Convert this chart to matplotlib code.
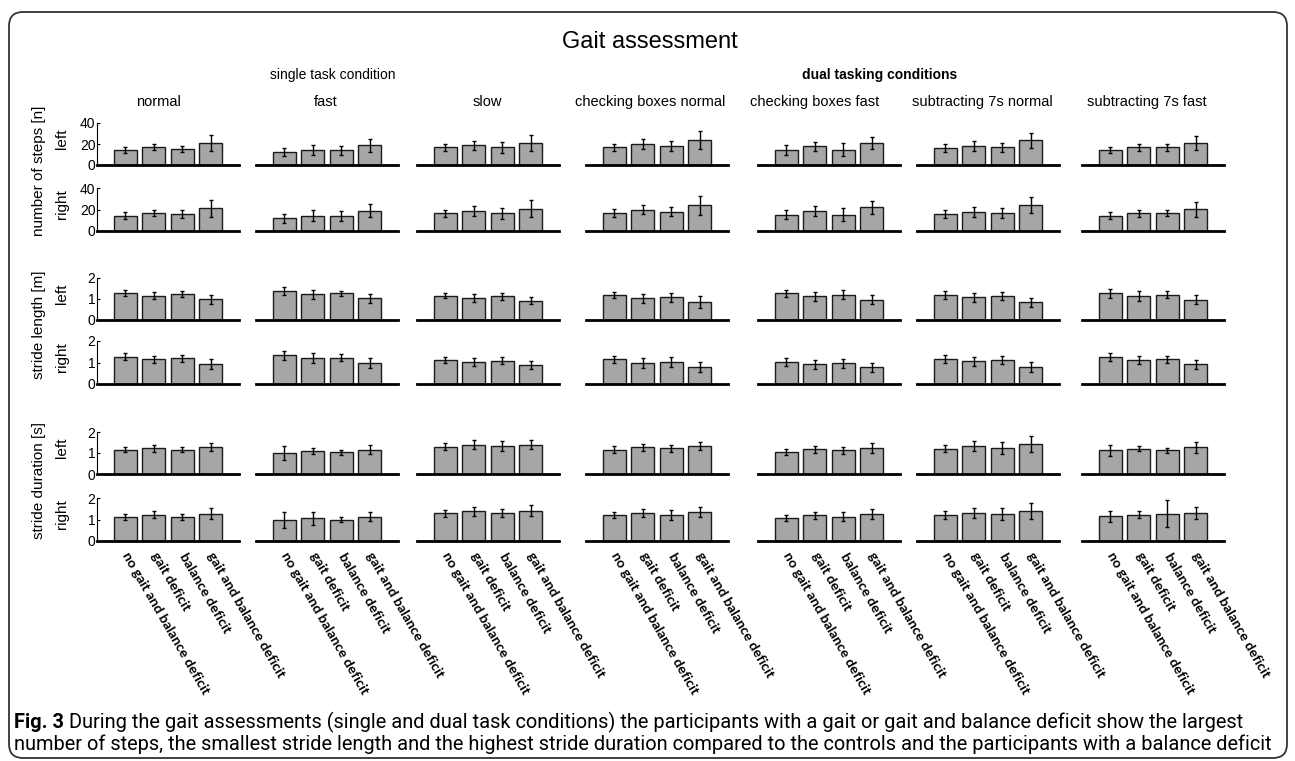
import matplotlib
matplotlib.use("Agg")
import matplotlib.pyplot as plt
from matplotlib.patches import FancyBboxPatch

W, H = 1295, 761

conditions = ["normal", "fast", "slow", "checking boxes normal", "checking boxes fast",
              "subtracting 7s normal", "subtracting 7s fast"]
groups = ["no gait and balance deficit", "gait deficit", "balance deficit",
          "gait and balance deficit"]

# mean values, one list per condition (4 groups each)
steps_left = [[14.3, 17.1, 15.2, 21.0], [12.1, 14.3, 14.0, 18.7], [16.8, 18.7, 16.8, 21.0],
              [16.8, 19.7, 18.1, 23.5], [14.3, 17.8, 14.3, 20.6], [15.9, 17.8, 16.8, 23.5],
              [14.3, 16.8, 16.8, 21.0]]
steps_left_err = [[3.0, 2.9, 3.0, 7.6], [3.8, 5.0, 4.4, 6.0], [3.5, 4.5, 5.0, 8.0],
                  [3.3, 4.6, 4.9, 8.6], [4.3, 4.4, 6.2, 5.7], [3.7, 4.8, 4.1, 7.1],
                  [3.2, 3.5, 3.3, 7.0]]
steps_right = [[14.3, 16.8, 15.6, 21.0], [11.7, 14.3, 14.0, 18.7], [16.5, 18.7, 16.5, 20.6],
               [16.8, 20.0, 18.1, 23.8], [15.2, 18.7, 15.2, 22.2], [15.9, 17.8, 16.8, 24.1],
               [14.3, 16.5, 16.5, 20.3]]
steps_right_err = [[3.0, 3.0, 3.5, 7.6], [4.0, 5.0, 4.6, 6.0], [3.5, 4.5, 5.0, 8.0],
                   [3.5, 4.6, 4.4, 9.0], [4.5, 4.5, 6.0, 6.0], [3.5, 4.5, 4.5, 7.5],
                   [3.0, 3.5, 3.0, 7.0]]
stride_len_left = [[1.30, 1.16, 1.24, 0.98], [1.37, 1.22, 1.27, 1.03], [1.16, 1.05, 1.13, 0.92],
                   [1.17, 1.03, 1.08, 0.86], [1.27, 1.13, 1.21, 0.97], [1.19, 1.08, 1.14, 0.84],
                   [1.27, 1.14, 1.21, 0.97]]
stride_len_left_err = [[0.14, 0.17, 0.16, 0.22], [0.20, 0.20, 0.13, 0.20], [0.13, 0.18, 0.16, 0.18],
                       [0.14, 0.20, 0.22, 0.27], [0.17, 0.22, 0.22, 0.22], [0.18, 0.20, 0.17, 0.20],
                       [0.20, 0.23, 0.17, 0.21]]
stride_len_right = [[1.27, 1.14, 1.19, 0.91], [1.33, 1.22, 1.22, 0.98], [1.11, 1.03, 1.09, 0.89],
                    [1.14, 0.97, 1.03, 0.81], [1.02, 0.92, 0.96, 0.77], [1.17, 1.06, 1.11, 0.81],
                    [1.25, 1.11, 1.14, 0.91]]
stride_len_right_err = [[0.15, 0.18, 0.16, 0.23], [0.20, 0.24, 0.17, 0.22], [0.14, 0.18, 0.15, 0.18],
                        [0.18, 0.23, 0.23, 0.23], [0.17, 0.20, 0.20, 0.19], [0.18, 0.20, 0.19, 0.23],
                        [0.18, 0.20, 0.17, 0.21]]
stride_dur_left = [[1.16, 1.22, 1.16, 1.30], [1.00, 1.10, 1.03, 1.16], [1.30, 1.40, 1.35, 1.40],
                   [1.16, 1.27, 1.22, 1.33], [1.06, 1.17, 1.13, 1.24], [1.21, 1.33, 1.25, 1.43],
                   [1.13, 1.21, 1.13, 1.27]]
stride_dur_left_err = [[0.12, 0.17, 0.13, 0.20], [0.35, 0.14, 0.13, 0.20], [0.16, 0.21, 0.24, 0.20],
                       [0.16, 0.17, 0.17, 0.19], [0.14, 0.16, 0.17, 0.22], [0.17, 0.23, 0.28, 0.37],
                       [0.25, 0.13, 0.11, 0.25]]
stride_dur_right = [[1.13, 1.22, 1.13, 1.27], [0.98, 1.06, 1.00, 1.13], [1.29, 1.38, 1.29, 1.41],
                    [1.19, 1.29, 1.22, 1.35], [1.08, 1.19, 1.13, 1.24], [1.22, 1.30, 1.27, 1.41],
                    [1.14, 1.22, 1.27, 1.30]]
stride_dur_right_err = [[0.13, 0.17, 0.13, 0.25], [0.39, 0.31, 0.13, 0.20], [0.17, 0.22, 0.18, 0.25],
                        [0.14, 0.18, 0.23, 0.24], [0.14, 0.17, 0.22, 0.23], [0.18, 0.24, 0.27, 0.37],
                        [0.25, 0.16, 0.63, 0.26]]

rows = [(steps_left, steps_left_err, 40), (steps_right, steps_right_err, 40),
        (stride_len_left, stride_len_left_err, 2), (stride_len_right, stride_len_right_err, 2),
        (stride_dur_left, stride_dur_left_err, 2), (stride_dur_right, stride_dur_right_err, 2)]
side_labels = ["left", "right", "left", "right", "left", "right"]
measure_labels = ["number of steps [n]", "stride length [m]", "stride duration [s]"]

caption_1 = ("During the gait assessments (single and dual task conditions) the participants "
             "with a gait or gait and balance deficit show the largest")
caption_2 = ("number of steps, the smallest stride length and the highest stride duration "
             "compared to the controls and the participants with a balance deficit")

plt.rcParams['font.family'] = ['Liberation Sans', 'DejaVu Sans']

fig = plt.figure(figsize=(W / 100, H / 100), dpi=100)
bg = fig.add_axes([0, 0, 1, 1])
bg.axis('off')
bg.set_xlim(0, W)
bg.set_ylim(H, 0)

bg.add_patch(FancyBboxPatch((9, 12), 1278, 746, boxstyle="round,pad=0,rounding_size=14",
                            fc='none', ec='#333333', lw=1.3))

# pixel layout of the panel grid
col_left = [97, 256, 417, 586, 758, 917, 1082]
col_w = 142
row_span = [(123, 165), (188, 231), (278, 320), (341, 384), (432, 474), (498, 541)]

def px_axes(x0, y0, x1, y1):
    return fig.add_axes([x0 / W, 1 - y1 / H, (x1 - x0) / W, (y1 - y0) / H])

xs = [1, 2, 3, 4]
for r, (vals, errs, top) in enumerate(rows):
    y0, y1 = row_span[r]
    for c in range(7):
        ax = px_axes(col_left[c], y0, col_left[c] + col_w, y1)
        ax.bar(xs, vals[c], width=0.8, color='#a6a6a6', edgecolor='#1a1a1a', lw=1, zorder=2)
        ax.errorbar(xs, vals[c], yerr=errs[c], fmt='none', ecolor='black', elinewidth=1,
                    capsize=1.5, capthick=1, zorder=3)
        ax.set_xlim(0, 5)
        ax.set_ylim(0, top)
        ax.patch.set_alpha(0)
        for s in ('top', 'right'):
            ax.spines[s].set_visible(False)
        ax.spines['bottom'].set_linewidth(2)
        ax.tick_params(axis='x', length=0)
        if c == 0:
            ax.set_yticks([0, top / 2, top])
            ax.set_yticklabels([f"{v:g}" for v in [0, top / 2, top]])
            ax.tick_params(axis='y', length=2, direction='in', labelsize=10, pad=1)
        else:
            ax.spines['left'].set_visible(False)
            ax.set_yticks([])
        if r == 5:
            ax.set_xticks(xs)
            ax.set_xticklabels(groups, rotation=-60, ha='left', va='center',
                               rotation_mode='anchor', fontsize=10, fontweight='bold',
                               family=['Lato', 'DejaVu Sans'])
            ax.tick_params(axis='x', pad=9)
        else:
            ax.set_xticks([])

# row labels
for r in range(6):
    y0, y1 = row_span[r]
    bg.text(62, (y0 + y1) / 2 - 5, side_labels[r], rotation=90, ha='center', va='center',
            fontsize=11)
for i, lab in enumerate(measure_labels):
    yc = (row_span[2 * i][0] + row_span[2 * i + 1][1]) / 2 - 6
    bg.text(39, yc, lab, rotation=90, ha='center', va='center', fontsize=11)

# column titles
title_x = [158, 326, 487, 650, 815, 982, 1147]
for c, name in enumerate(conditions):
    bg.text(title_x[c], 102, name, ha='center', va='center', fontsize=10.5)
bg.text(333, 75, "single task condition", ha='center', va='center', fontsize=10)
bg.text(880, 75, "dual tasking conditions", ha='center', va='center', fontsize=10,
        fontweight='bold')
bg.text(650, 42, "Gait assessment", ha='center', va='center', fontsize=17)

# caption, sized so that the second line spans the box
cap_font = ['Roboto', 'DejaVu Sans']
renderer = fig.canvas.get_renderer()
probe = bg.text(0, 0, caption_2, fontsize=10, family=cap_font)
cap_size = 10 * 1262 / probe.get_window_extent(renderer).width
probe.remove()

t1 = bg.text(14, 722, "Fig. 3", ha='left', va='center', fontsize=cap_size, fontweight='bold',
             family=cap_font)
bg.annotate(" " + caption_1, xy=(1, 0.5), xycoords=t1, ha='left', va='center',
            fontsize=cap_size, family=cap_font)
bg.text(14, 744, caption_2, ha='left', va='center', fontsize=cap_size, family=cap_font)

fig.savefig("out.png", dpi=100)
